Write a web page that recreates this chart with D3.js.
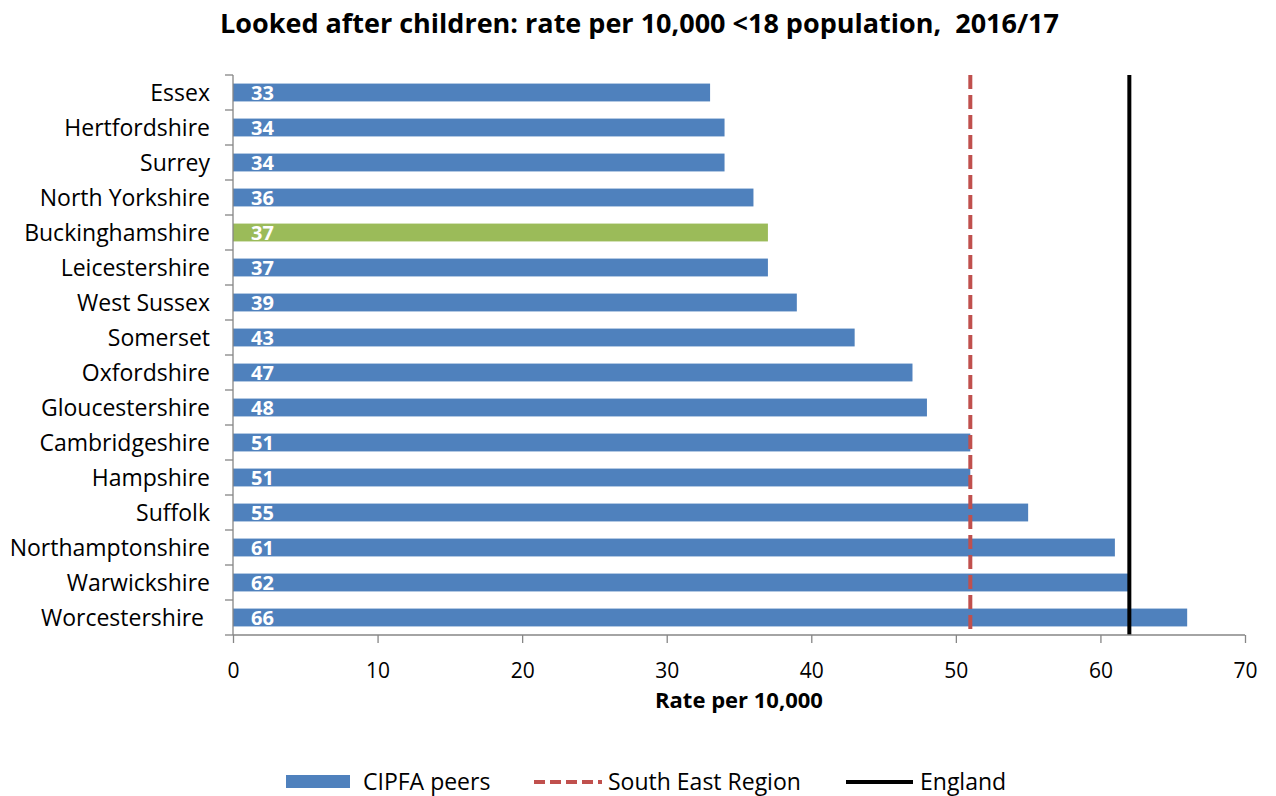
<!DOCTYPE html>
<html>
<head>
<meta charset="utf-8">
<script src="https://cdn.jsdelivr.net/npm/d3@7"></script>
<style>
  html, body { margin: 0; padding: 0; background: #fff; }
  svg { display: block; font-family: "Open Sans", "Noto Sans", sans-serif; }
  text { white-space: pre; }
</style>
</head>
<body>
<svg id="chart" width="1276" height="796"></svg>
<script>
// Local authorities, ordered as shown top to bottom
const areas = ["Essex", "Hertfordshire", "Surrey", "North Yorkshire", "Buckinghamshire",
  "Leicestershire", "West Sussex", "Somerset", "Oxfordshire", "Gloucestershire",
  "Cambridgeshire", "Hampshire", "Suffolk", "Northamptonshire", "Warwickshire", "Worcestershire"];
// Looked after children rate per 10,000 under-18s
const rates = [33, 34, 34, 36, 37, 37, 39, 43, 47, 48, 51, 51, 55, 61, 62, 66];
const highlightArea = "Buckinghamshire";
const southEastRate = 51;
const englandRate = 62;
const xTicks = [0, 10, 20, 30, 40, 50, 60, 70];
const titleText = "Looked after children: rate per 10,000 <18 population,  2016/17";
const xTitleText = "Rate per 10,000";
const legendLabels = ["CIPFA peers", "South East Region", "England"];

const BLUE = "#4F81BD", GREEN = "#9BBB59", RED = "#C0504D", AXIS = "#868686";

const svg = d3.select("#chart");
const plot = { left: 233, right: 1245, top: 75, bottom: 635 };

const x = d3.scaleLinear().domain([0, 70]).range([plot.left, plot.right]);
const band = d3.scaleBand().domain(areas).range([plot.top, plot.bottom]);
const y = d3.scaleBand().domain(areas).range([plot.top, plot.bottom]).paddingInner(0.49).paddingOuter(0.245);

const data = areas.map((a, i) => ({ area: a, rate: rates[i] }));

// Title
svg.append("text")
  .attr("x", 639.5).attr("y", 33)
  .attr("text-anchor", "middle")
  .attr("font-size", 27).attr("font-weight", 700).attr("fill", "#000")
  .text(titleText);

// Bars
svg.append("g").selectAll("rect").data(data).join("rect")
  .attr("x", x(0))
  .attr("y", d => y(d.area))
  .attr("width", d => x(d.rate) - x(0))
  .attr("height", y.bandwidth())
  .attr("fill", d => d.area === highlightArea ? GREEN : BLUE);

// Value labels inside bars
svg.append("g").selectAll("text").data(data).join("text")
  .attr("x", x(0) + 18)
  .attr("y", d => band(d.area) + band.bandwidth() / 2 + 7)
  .attr("font-size", 20).attr("font-weight", 700).attr("fill", "#fff")
  .text(d => d.rate);

// Reference lines
svg.append("line")
  .attr("x1", x(southEastRate)).attr("x2", x(southEastRate))
  .attr("y1", plot.top).attr("y2", plot.bottom)
  .attr("stroke", RED).attr("stroke-width", 4)
  .attr("stroke-dasharray", "14,6");
svg.append("line")
  .attr("x1", x(englandRate)).attr("x2", x(englandRate))
  .attr("y1", plot.top).attr("y2", plot.bottom)
  .attr("stroke", "#000").attr("stroke-width", 4);

// Category axis (ticks at band boundaries)
const yAxisG = svg.append("g");
yAxisG.append("line")
  .attr("x1", plot.left).attr("x2", plot.left)
  .attr("y1", plot.top).attr("y2", plot.bottom)
  .attr("stroke", AXIS).attr("stroke-width", 1.3);
const bounds = areas.map(a => band(a)).concat([plot.bottom]);
yAxisG.selectAll("line.tick").data(bounds).join("line")
  .attr("class", "tick")
  .attr("x1", plot.left - 8).attr("x2", plot.left)
  .attr("y1", d => d).attr("y2", d => d)
  .attr("stroke", AXIS).attr("stroke-width", 1.3);
yAxisG.selectAll("text").data(areas).join("text")
  .attr("x", plot.left - 23)
  .attr("y", d => band(d) + band.bandwidth() / 2 + 8)
  .attr("text-anchor", "end")
  .attr("font-size", 23).attr("fill", "#000")
  .text(d => d === "Worcestershire" ? d + " " : d);

// Value axis
const xAxis = d3.axisBottom(x).tickValues(xTicks).tickSize(8).tickPadding(20).tickFormat(d3.format("d"));
const xAxisG = svg.append("g").attr("transform", `translate(0,${plot.bottom})`).call(xAxis);
xAxisG.select(".domain").attr("stroke", AXIS).attr("stroke-width", 1.3)
  .attr("d", `M${plot.left},0H${plot.right}`);
xAxisG.selectAll(".tick line").attr("stroke", AXIS).attr("stroke-width", 1.3);
xAxisG.selectAll(".tick text")
  .attr("font-size", 21).attr("font-family", "'Open Sans', 'Noto Sans', sans-serif").attr("fill", "#000");

// Axis title
svg.append("text")
  .attr("x", (plot.left + plot.right) / 2).attr("y", 708)
  .attr("text-anchor", "middle")
  .attr("font-size", 22).attr("font-weight", 700).attr("fill", "#000")
  .text(xTitleText);

// Legend
const lg = svg.append("g");
const ly = 782;
lg.append("rect").attr("x", 286).attr("y", ly - 7).attr("width", 64).attr("height", 13).attr("fill", BLUE);
lg.append("text").attr("x", 363).attr("y", ly + 8).attr("font-size", 23).text(legendLabels[0]);
lg.append("line").attr("x1", 534).attr("x2", 602).attr("y1", ly).attr("y2", ly)
  .attr("stroke", RED).attr("stroke-width", 4).attr("stroke-dasharray", "11,5");
lg.append("text").attr("x", 608).attr("y", ly + 8).attr("font-size", 23).text(legendLabels[1]);
lg.append("line").attr("x1", 846).attr("x2", 913).attr("y1", ly).attr("y2", ly)
  .attr("stroke", "#000").attr("stroke-width", 4);
lg.append("text").attr("x", 920).attr("y", ly + 8).attr("font-size", 23).text(legendLabels[2]);
</script>
</body>
</html>
